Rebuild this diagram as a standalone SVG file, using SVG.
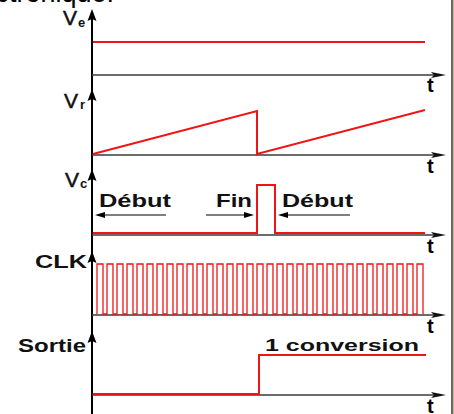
<svg xmlns="http://www.w3.org/2000/svg" width="454" height="414" viewBox="0 0 454 414">
<style>
.ax{stroke:#3a3a3a;stroke-width:1.5;fill:none}
.yax{stroke:#000;stroke-width:2;fill:none}
.sig{stroke:#f01414;stroke-width:2;fill:none;stroke-linejoin:miter}
.clk{stroke:#f01414;stroke-width:1.3;fill:none}
.lbl{font-family:"Liberation Sans",Arial,sans-serif;font-weight:bold;fill:#111}
.v{font-family:"Liberation Sans",Arial,sans-serif;font-size:21px;fill:#111;stroke:#111;stroke-width:0.5}
.sub{font-family:"Liberation Sans",Arial,sans-serif;font-size:13px;font-weight:bold;fill:#111}
.t{font-family:"Liberation Sans",Arial,sans-serif;font-size:20px;font-weight:bold;fill:#000}
.thin{stroke:#000;stroke-width:1.2;fill:none}
</style>
<defs>
<polygon id="hArrow" points="-15,-3 0,0 -15,3 -12,0" fill="#111"/>
<polygon id="vArrow" points="0,0 4.5,12 0,10 -4.5,12" fill="#000"/>
<polygon id="lArrow" points="0,0 10,-3 10,3" fill="#000"/>
</defs>
<rect width="454" height="414" fill="#fff"/>
<text x="114" y="2" text-anchor="end" font-family="Liberation Sans, Arial, sans-serif" font-size="27" fill="#000">électronique.</text>
<line x1="452" y1="0" x2="452" y2="414" stroke="#333026" stroke-width="1.5"/>
<line x1="453.5" y1="0" x2="453.5" y2="414" stroke="#c9b98c" stroke-width="1.2"/>

<g id="axes">
<line class="yax" x1="92" y1="14" x2="92" y2="414"/>
<use href="#vArrow" x="92" y="9"/>
<use href="#vArrow" x="92" y="89"/>
<use href="#vArrow" x="92" y="169"/>
<use href="#vArrow" x="92" y="251"/>
<use href="#vArrow" x="92" y="331"/>
<line class="ax" x1="92" y1="75" x2="440" y2="75"/><use href="#hArrow" x="446" y="75"/>
<line class="ax" x1="92" y1="155" x2="440" y2="155"/><use href="#hArrow" x="446" y="155"/>
<line class="ax" x1="92" y1="235" x2="440" y2="235"/><use href="#hArrow" x="446" y="235"/>
<line class="ax" x1="92" y1="315" x2="440" y2="315"/><use href="#hArrow" x="446" y="315"/>
<line class="ax" x1="92" y1="395" x2="440" y2="395"/><use href="#hArrow" x="446" y="395"/>
<text class="t" x="427" y="92">t</text>
<text class="t" x="427" y="173">t</text>
<text class="t" x="427" y="253">t</text>
<text class="t" x="427" y="333">t</text>
<text class="t" x="427" y="413">t</text>
</g>

<g id="ve">
<text class="v" x="63" y="25">V</text><text class="sub" x="78" y="27">e</text>
<line class="sig" x1="93" y1="42" x2="425" y2="42"/>
</g>

<g id="vr">
<text class="v" x="64" y="108">V</text><text class="sub" x="80" y="109">r</text>
<polyline class="sig" points="93,154 257,111 257,154 425,110"/>
</g>

<g id="vc">
<text class="v" x="65" y="187">V</text><text class="sub" x="80" y="188">c</text>
<polyline class="sig" points="93,233 257,233 257,185 275,185 275,233 425,233"/>
<text class="lbl" x="99" y="207" font-size="19" textLength="72" lengthAdjust="spacingAndGlyphs">Début</text>
<text class="lbl" x="216" y="207" font-size="19" textLength="36" lengthAdjust="spacingAndGlyphs">Fin</text>
<text class="lbl" x="282" y="207" font-size="19" textLength="71" lengthAdjust="spacingAndGlyphs">Début</text>
<line class="thin" x1="100" y1="215" x2="166" y2="215"/><use href="#lArrow" x="95" y="215"/>
<line class="thin" x1="206" y1="215" x2="249" y2="215"/><use href="#lArrow" transform="translate(254,215) rotate(180)"/>
<line class="thin" x1="283" y1="215" x2="350" y2="215"/><use href="#lArrow" x="278" y="215"/>
</g>

<g id="clk">
<text class="lbl" x="35" y="268" font-size="18" textLength="52" lengthAdjust="spacingAndGlyphs">CLK</text>
<path class="clk" d="M97,314 v-50h6v50h4v-50h6v50h4v-50h6v50h4v-50h6v50h4 v-50h6v50h4v-50h6v50h4v-50h6v50h4v-50h6v50h4 v-50h6v50h4v-50h6v50h4v-50h6v50h4v-50h6v50h4 v-50h6v50h4v-50h6v50h4v-50h6v50h4v-50h6v50h4 v-50h6v50h4v-50h6v50h4v-50h6v50h4v-50h6v50h4 v-50h6v50h4v-50h6v50h4v-50h6v50h4v-50h6v50h4 v-50h6v50h4v-50h6v50h4v-50h6v50h4v-50h6v50h4 v-50h6v50h4v-50h6v50h4v-50h6v50h4v-50h6v50h4 v-50h6v50"/>
</g>

<g id="sortie">
<text class="lbl" x="18" y="352" font-size="18" textLength="68" lengthAdjust="spacingAndGlyphs">Sortie</text>
<polyline class="sig" points="93,394 259,394 259,355 426,355"/>
<text class="lbl" x="265" y="351" font-size="17" textLength="154" lengthAdjust="spacingAndGlyphs">1 conversion</text>
</g>
</svg>
